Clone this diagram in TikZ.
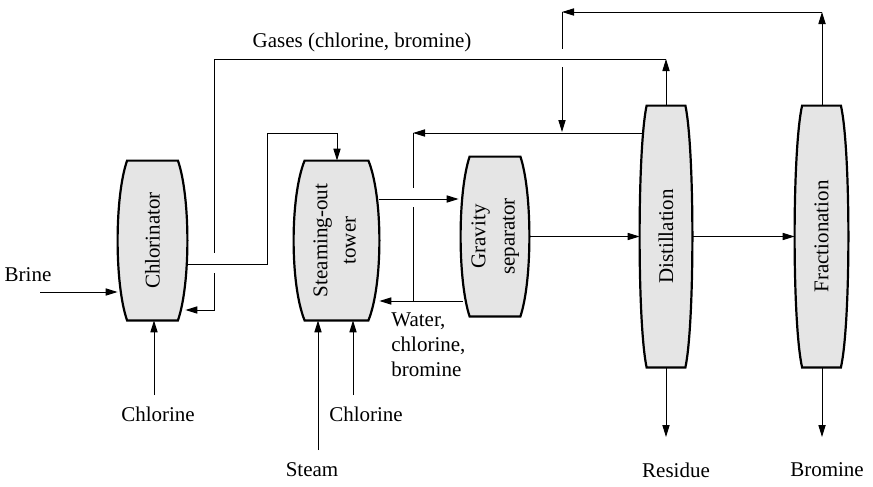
\documentclass[tikz,border=0pt]{standalone}
\usepackage{fontspec}
\setmainfont{Liberation Serif}
\usetikzlibrary{arrows.meta,backgrounds,calc}
\definecolor{vesselfill}{RGB}{229,229,229}
\tikzset{
  vessel/.style 2 args={minimum width=#1*0.5pt, minimum height=#2*0.5pt, inner sep=0pt, draw=none},
  barrel/.style={draw=black, line width=1.1pt, fill=vesselfill},
  arr/.style={-{Triangle[length=6pt,width=3.6pt]}, line width=0.5pt},
  pipe/.style={line width=0.5pt},
  lbl/.style={inner sep=0pt}
}
\newcommand\barrelpath[3]{%
  \path[barrel] ([xshift=#2pt]#1.north west) -- ([xshift=-#2pt]#1.north east)
   .. controls ([xshift=#2pt/3, yshift=-#3pt]#1.north east) and ([xshift=#2pt/3, yshift=#3pt]#1.south east) .. ([xshift=-#2pt]#1.south east)
   -- ([xshift=#2pt]#1.south west)
   .. controls ([xshift=-#2pt/3, yshift=#3pt]#1.south west) and ([xshift=-#2pt/3, yshift=-#3pt]#1.north west) .. cycle;}
\begin{document}
\begin{tikzpicture}[x=0.5pt, y=-0.5pt, every node/.style={font=\fontsize{10.5pt}{12.6pt}\selectfont}]
\useasboundingbox (0,0) rectangle (873,487);
% vessels
\node[vessel={69}{159}] (chlor) at (152.5,240.5) {\rotatebox{90}{Chlorinator}};
\node[vessel={85}{159}] (steam) at (336.5,240.5) {\rotatebox{90}{\begin{tabular}{@{}c@{}}Steaming-out\\[1.5pt] tower\end{tabular}}};
\node[vessel={68}{159}] (grav) at (495,236.5) {\rotatebox{90}{\begin{tabular}{@{}c@{}}Gravity\\[2pt] separator\end{tabular}}};
\node[vessel={52}{261}] (dist) at (666,236.5) {\rotatebox{90}{Distillation}};
\node[vessel={53}{261}] (frac) at (821.5,236.5) {\rotatebox{90}{Fractionation}};
\begin{scope}[on background layer]
\barrelpath{chlor}{4.75}{18}
\barrelpath{steam}{5.5}{18}
\barrelpath{grav}{4.5}{18}
\barrelpath{dist}{3.5}{22}
\barrelpath{frac}{3.75}{22}
\end{scope}
% labels
\node[lbl] (brine) at (28,275) {Brine};
\node[lbl] (cl1) at (158,414) {Chlorine};
\node[lbl] (cl2) at (366,414) {Chlorine};
\node[lbl] (steamlbl) at (312,470) {Steam};
\node[lbl] (resid) at (676,470) {Residue};
\node[lbl] (brom) at (827,470) {Bromine};
\node[lbl] (gases) at (362,42) {Gases (chlorine, bromine)};
\node[lbl, anchor=north west, align=left] (water) at (391,312) {Water,\\chlorine,\\bromine};
% coordinates
\coordinate (b1) at (40,292);
\coordinate (c1) at (154,395);
\coordinate (o1) at (267,264);
\coordinate (o2) at (337,133);
\coordinate (g1) at (666,59);
\coordinate (g2) at (214,59);
\coordinate (g3) at (214,253);
\coordinate (g4) at (214,273);
\coordinate (g5) at (214,310);
\coordinate (f1) at (822,12);
\coordinate (f2) at (562,12);
\coordinate (f3) at (562,49);
\coordinate (f4) at (562,67);
\coordinate (f5) at (562,132);
\coordinate (r1) at (413,133);
\coordinate (r2) at (413,188);
\coordinate (r3) at (413,207);
\coordinate (w1) at (413,301);
\coordinate (s1) at (400,199);
\coordinate (st1) at (318,450);
\coordinate (c2) at (353,395);
\coordinate (res1) at (666,437);
\coordinate (bro1) at (822,437);
% connectors
\draw[arr] (b1) -- (b1 -| chlor.west);
\draw[arr] (c1) -- (c1 |- chlor.south);
\draw[arr] (o1 -| chlor.east) -- (o1) |- (o2) -- (o2 |- steam.north);
\draw[arr] (dist.north |- dist.north) -- (g1);
\draw[pipe] (g1) -- (g2) -- (g3);
\draw[arr] (g4) -- (g5) -- ([xshift=-1pt]g5 -| chlor.east);
\draw[arr] (f1 |- frac.north) -- (f1);
\draw[arr] (f1) -- (f2);
\draw[pipe] (f2) -- (f3);
\draw[arr] (f4) -- (f5);
\draw[arr] ([xshift=1pt]r1 -| dist.west) -- (r1);
\draw[pipe] (r1) -- (r2);
\draw[pipe] (r3) -- (w1);
\draw[arr] ([xshift=1pt]w1 -| grav.west) -- (w1 -| steam.east);
\draw[arr] (s1 -| steam.east) -- ([xshift=-1pt]s1 -| grav.west);
\draw[arr] (grav.east) -- (grav.east -| dist.west);
\draw[arr] (dist.east) -- (dist.east -| frac.west);
\draw[arr] (dist.south) -- (res1);
\draw[arr] (f1 |- frac.south) -- (bro1);
\draw[arr] (st1) -- (st1 |- steam.south);
\draw[arr] (c2) -- (c2 |- steam.south);
\end{tikzpicture}
\end{document}
